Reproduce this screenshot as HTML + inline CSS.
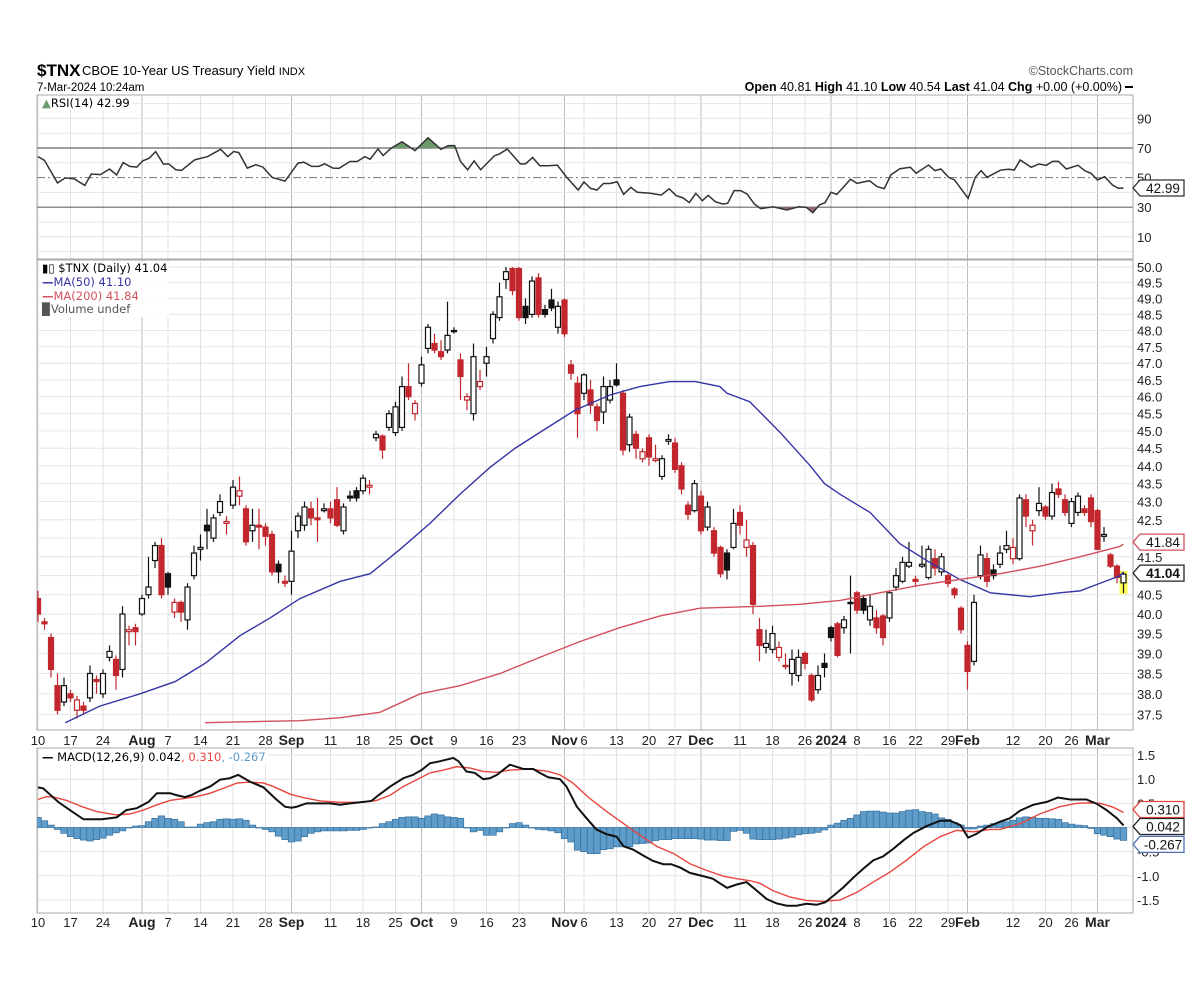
<!DOCTYPE html>
<html><head><meta charset="utf-8"><title>$TNX chart</title>
<style>
html,body{margin:0;padding:0;background:#fff;}
svg{display:block;font-family:"Liberation Sans",Arial,sans-serif;}
.lg{font-family:"DejaVu Sans","Liberation Sans",sans-serif;font-size:11.5px;}
</style></head>
<body>
<svg id="chart" width="1204" height="1000" viewBox="0 0 1204 1000" xmlns="http://www.w3.org/2000/svg">
<rect x="0" y="0" width="1204" height="1000" fill="#fff"/>
<g>
<text x="37" y="76" font-size="17" font-weight="bold">$TNX</text>
<text x="82" y="75" font-size="13">CBOE 10-Year US Treasury Yield <tspan font-size="11">INDX</tspan></text>
<text x="1133" y="75" font-size="12.5" fill="#555" text-anchor="end">©StockCharts.com</text>
<text x="37" y="91" font-size="11.5">7-Mar-2024 10:24am</text>
<text x="1122" y="91" font-size="12.5" text-anchor="end"><tspan font-weight="bold">Open</tspan> 40.81  <tspan font-weight="bold">High</tspan> 41.10  <tspan font-weight="bold">Low</tspan> 40.54  <tspan font-weight="bold">Last</tspan> 41.04  <tspan font-weight="bold">Chg</tspan> +0.00 (+0.00%)</text>
<rect x="1125" y="86" width="8" height="2" fill="#000"/>
</g>
<g id="grid"></g>
<g id="marks"></g>
<g id="labels"></g>
</svg>
<script>
// ---------- data ----------
const dayLabels = ["10","17","24","Aug","7","14","21","28","Sep","11","18","25","Oct","9","16","23","Nov","6","13","20","27","Dec","11","18","26","2024","8","16","22","29","Feb","12","20","26","Mar"];
const dayLabelIdx = [0,5,10,16,20,25,30,35,39,45,50,55,59,64,69,74,81,84,89,94,98,102,108,113,118,122,126,131,135,140,143,150,155,159,163];
const monthLabels = ["Aug","Sep","Oct","Nov","Dec","2024","Feb","Mar"];
const priceTicks = [37.5,38.0,38.5,39.0,39.5,40.0,40.5,41.0,41.5,42.0,42.5,43.0,43.5,44.0,44.5,45.0,45.5,46.0,46.5,47.0,47.5,48.0,48.5,49.0,49.5,50.0];
const rsiTicks = [90,70,50,30,10];
const macdTicks = [1.5,1.0,0.5,-0.5,-1.0,-1.5];

const openP = [40.4,39.8,39.4,38.2,37.8,38.0,37.6,37.7,37.9,38.35,38.0,38.9,38.85,38.6,39.55,39.65,40.0,40.5,41.4,41.8,41.05,40.05,40.3,39.85,41.0,41.7,42.35,42.0,42.7,42.4,42.9,43.15,42.8,42.2,42.35,42.3,42.1,41.3,40.85,40.85,42.2,42.35,42.8,42.55,42.75,42.8,43.05,42.2,43.15,43.3,43.3,43.4,44.8,44.85,45.1,44.95,45.1,46.3,45.5,46.4,47.45,47.6,47.35,47.4,48.0,47.1,45.9,45.5,46.3,47.0,47.75,48.4,49.6,49.95,49.95,48.75,48.5,49.65,48.65,48.95,48.1,48.95,46.95,46.4,46.1,46.2,45.7,45.55,45.9,46.5,46.1,44.6,44.9,44.2,44.8,44.15,43.7,44.7,44.65,44.0,42.9,42.75,43.15,42.3,42.2,41.75,41.6,41.75,42.7,41.75,41.8,39.6,39.15,39.1,38.9,38.7,38.5,38.45,39.0,38.45,38.1,38.75,39.65,39.75,39.65,40.3,40.55,40.4,39.85,39.9,39.95,39.9,40.7,40.85,41.25,40.9,41.25,40.95,41.45,41.1,41.0,40.65,40.15,39.2,38.8,41.0,41.45,41.15,41.3,41.7,41.45,41.45,43.05,42.2,42.75,42.85,42.6,43.35,43.05,42.4,42.7,42.8,43.1,42.75,42.05,41.55,41.25,40.81];
const highP = [40.6,39.9,39.5,38.5,38.4,38.1,37.95,37.8,38.7,38.45,38.6,39.2,38.95,40.2,39.7,39.75,40.5,41.5,41.9,42.0,41.1,40.4,40.35,40.8,41.8,42.1,42.8,42.65,43.2,42.6,43.6,43.7,42.9,42.8,42.8,42.4,42.2,41.4,41.0,42.2,42.7,43.0,43.0,43.1,42.95,43.0,43.4,42.95,43.3,43.4,43.75,43.6,45.0,44.9,45.6,45.85,46.6,47.0,45.9,47.2,48.2,47.9,47.7,48.9,48.1,47.3,46.1,47.6,46.8,47.5,48.6,49.5,50.0,50.0,50.0,49.0,49.7,49.8,48.8,49.3,48.9,49.0,47.1,46.6,46.7,46.5,45.8,46.6,46.5,47.0,46.2,45.5,45.0,44.5,44.9,44.6,44.3,44.9,44.8,44.1,43.0,43.6,43.3,43.0,42.3,41.8,41.7,42.8,42.9,42.5,41.9,39.9,39.6,39.7,39.3,39.0,39.1,39.1,39.05,38.5,38.7,39.0,39.7,39.8,39.95,41.0,40.6,40.5,40.5,40.1,40.0,40.6,41.2,41.5,41.9,41.0,41.8,41.8,41.7,41.6,41.1,40.7,40.2,39.3,40.5,41.8,41.6,41.3,41.8,42.2,42.0,43.2,43.2,42.5,43.4,42.9,43.5,43.55,43.2,43.1,43.25,42.9,43.2,42.8,42.3,41.6,41.3,41.10];
const lowP = [39.8,39.6,38.4,37.5,37.7,37.8,37.4,37.5,37.8,38.0,37.9,38.8,38.1,38.4,39.2,39.2,39.95,40.4,41.2,40.4,40.5,39.9,39.8,39.6,40.9,41.4,41.7,41.9,42.6,42.1,42.8,42.9,41.8,41.9,41.7,41.8,41.0,40.8,40.7,40.5,42.0,42.2,42.35,41.9,42.7,42.4,42.3,42.1,43.0,43.0,43.2,43.2,44.7,44.2,45.0,44.85,45.0,45.9,45.3,46.3,47.3,47.3,47.1,47.3,47.9,45.9,45.6,45.3,46.2,46.6,47.6,48.3,49.3,49.1,48.3,48.2,48.4,48.4,48.4,48.6,47.9,47.8,46.5,44.8,45.9,45.5,45.0,45.2,45.8,46.3,44.3,44.4,44.2,44.1,44.0,44.1,43.6,44.6,43.8,43.2,42.5,42.7,42.1,42.2,41.5,40.95,40.9,41.7,42.1,41.5,40.0,38.8,39.0,39.0,38.8,38.6,38.2,38.3,38.6,37.8,38.0,38.4,39.3,38.9,39.5,39.0,40.0,40.0,39.7,39.5,39.2,39.8,40.6,40.8,41.2,40.7,41.2,40.9,41.0,41.0,40.7,40.4,39.5,38.1,38.7,40.9,40.7,40.9,41.2,41.6,41.3,41.4,42.3,41.8,42.6,42.5,42.5,43.1,42.6,42.3,42.6,42.6,42.3,41.7,41.9,41.2,40.8,40.54];
const closeP = [40.0,39.75,38.6,37.6,38.2,37.9,37.85,37.6,38.5,38.3,38.5,39.05,38.45,40.0,39.6,39.55,40.4,40.7,41.8,40.5,40.7,40.3,40.05,40.7,41.6,41.75,42.2,42.55,43.0,42.45,43.4,43.3,41.9,42.35,42.3,42.05,41.1,41.1,40.8,41.65,42.6,42.85,42.55,42.5,42.8,42.55,42.35,42.85,43.1,43.1,43.65,43.45,44.9,44.45,45.5,45.7,46.3,46.0,45.8,46.95,48.1,47.4,47.2,47.85,48.0,46.6,46.0,47.2,46.45,47.2,48.5,49.05,49.85,49.25,48.4,48.4,49.55,48.5,48.5,48.7,48.75,47.9,46.7,45.5,46.65,45.75,45.3,46.3,46.3,46.35,44.45,45.4,44.5,44.4,44.25,44.2,44.2,44.75,43.9,43.35,42.65,43.5,42.2,42.85,41.6,41.05,41.15,42.4,42.35,41.95,40.25,39.2,39.25,39.5,39.15,38.7,38.85,38.9,38.75,37.85,38.45,38.65,39.4,38.95,39.85,40.3,40.1,40.1,40.2,39.65,39.4,40.55,41.0,41.35,41.35,40.85,41.3,41.7,41.2,41.5,40.8,40.5,39.6,38.55,40.3,41.55,40.85,41.0,41.6,41.8,41.75,43.1,42.6,42.35,42.95,42.6,43.25,43.2,42.7,43.0,43.15,42.7,42.45,41.7,42.1,41.25,40.95,41.04];

const ma50Day = [4.2,9.5,15.7,21.1,25.7,31.1,35.7,40.3,46.5,51.1,55.7,60.3,64.9,69.5,73.4,78,82.6,88,92.6,97.2,101.1,104.9,106,109.5,114.2,118.8,121,123.4,128,132.6,137.2,141.8,146.5,152.6,157.2,160.3,163.4,166.5,167];
const ma50Val = [37.3,37.7,38.0,38.3,38.75,39.45,39.9,40.4,40.85,41.05,41.7,42.4,43.2,43.95,44.5,45.05,45.6,46.05,46.3,46.45,46.45,46.3,46.1,45.85,44.95,44.0,43.5,43.2,42.7,41.85,41.35,40.9,40.55,40.45,40.55,40.6,40.8,41.0,41.10];
const ma200Day = [25.7,34.2,40.3,46.5,52.6,58.8,64.9,71.1,77.2,83.4,89.5,95.7,101.8,111.1,117.2,123.4,129.5,135.7,141.8,148,154.2,160.3,166.5,167];
const ma200Val = [37.3,37.33,37.35,37.42,37.55,38.0,38.2,38.5,38.9,39.3,39.65,39.95,40.15,40.2,40.25,40.35,40.55,40.75,40.9,41.05,41.25,41.5,41.78,41.84];

const rsiDay = [0,1.0,3.0,4.2,5.6,7.2,8.2,9.6,11,12.1,13.1,14.1,15.2,16.1,17.1,18.1,19.3,20.1,21.2,22.1,24.1,26.1,28.1,29.2,30.1,30.9,32.2,33.5,34.6,36,38,40,40.9,42.1,43.2,44.1,45.4,46.3,48,49.1,50.3,51.1,52.3,53.1,54.3,56,58,60,62,63.1,64.1,65,66.1,67.1,68.1,70.2,71,72.2,74.2,75,76.1,77.2,78.5,79.9,81.3,83.1,84,85,86,87,88,89.1,90.1,91.2,92.2,94.2,95.9,97.1,98.2,99.2,100.2,101.2,102.2,103.1,104.2,105.3,106.1,107.1,108.1,109.1,110.2,111.2,113.1,115.2,117,118.2,119.2,120.2,121.1,122,122.9,125,126,127.9,129.1,130.2,131.2,132.6,134.2,135.1,137,138,138.9,140.1,141,143.1,144.2,145.1,146,148.1,149.3,150.2,151.1,152.8,154,155.1,156.1,157,158.2,160,161.1,162,163,164.1,165.3,166.2,167];
const rsiVal = [64.2,61.6,46.4,49.8,49.1,44.7,52.4,52,55.8,51.8,60.2,57.6,57.1,61.3,63.1,67.6,59.1,59.3,55.3,54.9,62,64.2,69.1,64.2,67.6,66.9,56.4,58.7,57.1,50.2,47.6,59.8,60.4,57.6,57.6,59.3,56.4,56.2,60.9,60.9,64.2,62.4,69.3,64.9,69.8,74.2,68.2,76.9,69.1,71.6,71.6,60.9,55.3,61.3,55.3,64.7,66,69.3,59.3,59.3,63.6,58,58,58.4,50.4,41.6,47.1,42.7,41.6,46,46,47.2,38.7,43.4,40.1,39.4,38.2,42.5,37.8,36.4,33.1,39.4,34.4,38,33.7,32.2,32.6,41.2,41.2,38.9,32.2,29,30.3,28.1,30.3,29.9,26.3,31.5,33.1,40.1,38.7,48.9,46.1,47.9,43.9,42.5,51.8,56,57,52.9,58.5,54.7,55.8,50.2,48.4,36,50.2,54.7,50.2,55.1,55.6,55.1,61.9,57,59.2,58.3,61,61,55.8,58.3,54.5,52.9,48.4,50.6,45,42.8,42.99];

const macdDay = [0,0.8,3.1,4.9,7,9.8,12.1,13.6,15.2,17,18.3,20.3,21.3,22.6,23.6,24.9,26.5,28,29.5,30.8,32.6,34.7,36.5,38,39,39.8,41.3,43.4,44.9,46.5,48,50.1,51.3,52.4,54.2,56.2,57.7,59,60.3,61.8,63.9,64.7,65.9,67.2,68.5,69.5,70.6,72.6,74.7,76.2,77.2,78.5,80.3,81.3,82.9,84.4,85.9,87.5,89,90.1,91.6,93.1,94.6,96.2,97.4,98.8,100.3,102.4,103.8,106,107.5,109,110.6,112.1,113.6,115.2,116.7,118.2,119.8,121.1,122.4,123.9,125.5,127,128.5,130,131.6,133.2,134.7,136.7,138.8,140.3,141.9,143.1,144.4,145.9,148,149.5,151.1,153.1,155.2,156.9,158.8,161.3,162.9,164.4,166,167];
const macdVal = [0.83,0.81,0.53,0.36,0.17,0.17,0.21,0.36,0.4,0.53,0.71,0.71,0.67,0.63,0.67,0.76,0.85,0.99,1.02,1.09,0.95,0.83,0.6,0.43,0.41,0.43,0.5,0.5,0.5,0.47,0.5,0.53,0.55,0.67,0.85,1.02,1.09,1.19,1.33,1.37,1.44,1.37,1.16,1.13,1.0,1.02,1.09,1.3,1.21,1.21,1.13,1.04,1.0,0.85,0.43,0.19,-0.04,-0.14,-0.19,-0.39,-0.46,-0.58,-0.69,-0.76,-0.76,-0.83,-0.94,-1.01,-1.06,-1.25,-1.18,-1.13,-1.31,-1.48,-1.57,-1.62,-1.62,-1.58,-1.6,-1.55,-1.41,-1.24,-1.03,-0.85,-0.68,-0.6,-0.44,-0.26,-0.11,0.03,0.14,0.14,0.05,-0.21,-0.13,0,0.12,0.19,0.35,0.47,0.53,0.62,0.58,0.58,0.49,0.36,0.19,0.042];
const signalDay = [0,1.3,2.4,4.4,7,9,12.1,14.2,16.2,18.3,20.3,22.4,24.4,26.5,28.5,30.6,32.6,34.7,36.2,38.8,40.8,43.4,46.5,49.5,52.1,54.2,56.2,58.3,60.3,62.4,64.4,66.5,68.5,70.6,72.6,75.7,78.5,80.3,82.3,84.9,87.5,90.1,92.6,95.2,97.8,100.3,102.9,105.5,107.5,109.5,111,113.1,115.7,118.2,120.8,123.4,126,128.5,131.1,133.6,136.2,138.8,141.3,143.9,146.5,148,151.1,154.1,157.2,159.8,161.8,163.4,165.4,167];
const signalVal = [0.58,0.64,0.63,0.56,0.42,0.33,0.26,0.28,0.36,0.47,0.56,0.6,0.64,0.71,0.81,0.92,0.94,0.92,0.85,0.69,0.62,0.55,0.52,0.52,0.56,0.67,0.85,0.99,1.13,1.19,1.26,1.23,1.16,1.14,1.19,1.21,1.16,1.09,0.92,0.6,0.33,0.08,-0.16,-0.39,-0.54,-0.75,-0.89,-1.01,-1.06,-1.1,-1.15,-1.31,-1.44,-1.51,-1.53,-1.5,-1.34,-1.13,-0.92,-0.68,-0.4,-0.19,-0.06,-0.09,-0.04,-0.04,0.08,0.28,0.43,0.5,0.51,0.5,0.42,0.31];
const histVal = [0.21,0.14,0.05,-0.04,-0.12,-0.19,-0.23,-0.26,-0.28,-0.25,-0.22,-0.16,-0.11,-0.07,0.0,0.03,0.04,0.12,0.19,0.24,0.19,0.17,0.12,0.01,0.01,0.07,0.1,0.12,0.17,0.18,0.17,0.18,0.15,0.05,0.0,-0.04,-0.09,-0.18,-0.25,-0.3,-0.28,-0.19,-0.12,-0.09,-0.07,-0.07,-0.07,-0.07,-0.06,-0.06,-0.04,0.0,0.01,0.08,0.12,0.17,0.21,0.22,0.22,0.19,0.24,0.28,0.26,0.22,0.21,0.19,0.0,-0.09,-0.06,-0.16,-0.16,-0.09,0.0,0.08,0.1,0.05,0.0,-0.04,-0.05,-0.07,-0.11,-0.23,-0.3,-0.47,-0.5,-0.54,-0.54,-0.46,-0.44,-0.4,-0.4,-0.4,-0.34,-0.33,-0.32,-0.27,-0.25,-0.25,-0.23,-0.23,-0.23,-0.23,-0.24,-0.26,-0.26,-0.27,-0.27,-0.08,-0.06,-0.12,-0.24,-0.25,-0.25,-0.25,-0.24,-0.22,-0.2,-0.15,-0.13,-0.12,-0.1,-0.05,0.05,0.09,0.15,0.19,0.26,0.33,0.34,0.34,0.32,0.3,0.3,0.33,0.36,0.37,0.33,0.31,0.28,0.2,0.17,0.1,0.05,-0.03,-0.03,0.03,0.05,0.08,0.1,0.12,0.15,0.2,0.22,0.21,0.19,0.19,0.18,0.17,0.1,0.07,0.05,0.04,-0.02,-0.13,-0.16,-0.19,-0.24,-0.267];

// ---------- scales ----------
const PL = 37, PR = 1133;
const RSI_T = 95, RSI_B = 259, MAIN_T = 260, MAIN_B = 730, MACD_T = 748, MACD_B = 913;
function xD(d){ return 38 + 6.5*d; }
function yP(v){ return 267 + (Math.log10(50) - Math.log10(v))*3581; }
function yR(v){ return 148 + (70 - v)*1.48; }
function yM(v){ return 827.5 - 48.3*v; }

const NS = "http://www.w3.org/2000/svg";
function mk(tag, attrs, parent){
  const e = document.createElementNS(NS, tag);
  for (const k in attrs) e.setAttribute(k, attrs[k]);
  parent.appendChild(e);
  return e;
}
const svg = document.getElementById('chart');
const grid = document.getElementById('grid');
const marks = document.getElementById('marks');
const labels = document.getElementById('labels');

const defs = mk('defs', {}, svg);
function clip(id, x, y, w, h){ const c = mk('clipPath', {id:id}, defs); mk('rect', {x:x, y:y, width:w, height:h}, c); }
clip('cMain', PL, MAIN_T, PR-PL, MAIN_B-MAIN_T);
clip('cRsi', PL, RSI_T, PR-PL, RSI_B-RSI_T);
clip('cMacd', PL, MACD_T, PR-PL, MACD_B-MACD_T);
clip('cOver', PL, RSI_T, PR-PL, yR(70)-RSI_T);
clip('cUnder', PL, yR(30), PR-PL, RSI_B-yR(30));

// ---------- grids ----------
const panels = [[RSI_T,RSI_B,'rsi'],[MAIN_T,MAIN_B,'main'],[MACD_T,MACD_B,'macd']];
panels.forEach(p => {
  dayLabelIdx.forEach((d,k) => {
    const isMonth = monthLabels.indexOf(dayLabels[k]) >= 0;
    const l = mk('line', {x1:xD(d), x2:xD(d), y1:p[0], y2:p[1], stroke:isMonth?'#bcbcbc':'#e2e2e2', 'stroke-width':1}, grid);
    
    
  });
});
for (let v=0; v<=100; v+=10){
  if (v===70||v===30||v===50) continue;
  const l = mk('line', {x1:PL, x2:PR, y1:yR(v), y2:yR(v), stroke:'#e6e6e6'}, grid);
  
  
}
priceTicks.forEach(v => {
  const l = mk('line', {x1:PL, x2:PR, y1:yP(v), y2:yP(v), stroke:'#e6e6e6'}, grid);
  
  
});
macdTicks.concat([0]).forEach(v => {
  const l = mk('line', {x1:PL, x2:PR, y1:yM(v), y2:yM(v), stroke:'#e6e6e6'}, grid);
  
  
});
[70,30].forEach(v => {
  const l = mk('line', {x1:PL, x2:PR, y1:yR(v), y2:yR(v), stroke:'#666', 'stroke-width':1.2}, grid);
  
  
});
const l50 = mk('line', {x1:PL, x2:PR, y1:yR(50), y2:yR(50), stroke:'#777', 'stroke-dasharray':'8,3,2,3'}, grid);



panels.forEach(p => {
  const r = mk('rect', {x:PL, y:p[0], width:PR-PL, height:p[1]-p[0], fill:'none', stroke:'#aaa'}, grid);
  
  
});

// ---------- RSI ----------
const rsiPts = rsiDay.map((d,i) => xD(d)+','+yR(rsiVal[i])).join(' ');
const polyOver = xD(rsiDay[0])+','+yR(70)+' '+rsiPts+' '+xD(rsiDay[rsiDay.length-1])+','+yR(70);
const polyUnder = xD(rsiDay[0])+','+yR(30)+' '+rsiPts+' '+xD(rsiDay[rsiDay.length-1])+','+yR(30);
const ov = mk('polygon', {points:polyOver, fill:'#6b9a6b', 'clip-path':'url(#cOver)'}, marks);


const un = mk('polygon', {points:polyUnder, fill:'#9a6b75', 'clip-path':'url(#cUnder)'}, marks);


const rsiLine = mk('polyline', {points:rsiPts, fill:'none', stroke:'#333', 'stroke-width':1.5, 'clip-path':'url(#cRsi)'}, marks);



// ---------- Main: candles ----------
const gMain = mk('g', {'clip-path':'url(#cMain)'}, marks);


const last = closeP.length-1;
const hl = mk('rect', {x:xD(last)-4, y:yP(highP[last])-1, width:8, height:yP(lowP[last])-yP(highP[last])+2, fill:'#ffff55'}, gMain);


closeP.forEach((c,i) => {
  const o = openP[i];
  const prev = i>0 ? closeP[i-1] : openP[0];
  const col = c < prev ? '#c1272d' : '#111';
  const x = xD(i);
  const g = mk('g', {}, gMain);
  
  
  const w = mk('line', {x1:x, x2:x, y1:yP(highP[i]), y2:yP(lowP[i]), stroke:col, 'stroke-width':1.2}, g);
  
  
  const top = yP(Math.max(o,c)), bot = yP(Math.min(o,c));
  const h = Math.max(bot-top, 1.2);
  const filled = c < o;
  const b = mk('rect', {x:x-2.5, y:top, width:5, height:h, fill:filled?col:'#fff', stroke:col, 'stroke-width':1.2}, g);
  
  
});
const ma50 = mk('polyline', {points:ma50Day.map((d,i)=>xD(d)+','+yP(ma50Val[i])).join(' '), fill:'none', stroke:'#3535a5', 'stroke-width':1.4}, gMain);


const ma200 = mk('polyline', {points:ma200Day.map((d,i)=>xD(d)+','+yP(ma200Val[i])).join(' '), fill:'none', stroke:'#d2505c', 'stroke-width':1.4}, gMain);



// ---------- MACD ----------
const gM = mk('g', {'clip-path':'url(#cMacd)'}, marks);


histVal.forEach((v,i) => {
  const y0 = yM(0), y1 = yM(v);
  const r = mk('rect', {x:xD(i)-3.25, y:Math.min(y0,y1), width:6.5, height:Math.max(Math.abs(y1-y0),0.5), fill:'#5f9cc9', stroke:'#33709f', 'stroke-width':0.7}, gM);
  
  
});
const sig = mk('polyline', {points:signalDay.map((d,i)=>xD(d)+','+yM(signalVal[i])).join(' '), fill:'none', stroke:'#e8453f', 'stroke-width':1.4}, gM);


const mac = mk('polyline', {points:macdDay.map((d,i)=>xD(d)+','+yM(macdVal[i])).join(' '), fill:'none', stroke:'#111', 'stroke-width':2}, gM);



// ---------- axis labels ----------
function txt(x,y,s,attrs){
  const t = mk('text', Object.assign({x:x, y:y, 'font-size':13, fill:'#222'}, attrs||{}), labels);
  t.textContent = s;
  return t;
}
priceTicks.forEach(v => {
  const t = txt(1137, yP(v)+5, v.toFixed(1));
  
  
});
rsiTicks.forEach(v => {
  const t = txt(1137, yR(v)+5, String(v));
  
  
});
macdTicks.forEach(v => {
  const t = txt(1137, yM(v)+5, v.toFixed(1));
  
  
});
[MAIN_B+15, MACD_B+14].forEach(y => {
  dayLabelIdx.forEach((d,k) => {
    const s = dayLabels[k];
    const bold = monthLabels.indexOf(s) >= 0;
    const t = txt(xD(d), y, s, {'text-anchor':'middle', 'font-weight':bold?'bold':'normal', 'font-size':bold?14:13});
    
    
  });
});

function tag(y, s, stroke, bold, name){
  const g = mk('g', {}, labels);
  
  
  const w = 44;
  mk('polygon', {points:(1133)+','+y+' '+(1140)+','+(y-8)+' '+(1140+w)+','+(y-8)+' '+(1140+w)+','+(y+8)+' '+(1140)+','+(y+8), fill:'#fff', stroke:stroke, 'stroke-width':1.3}, g);
  const t = mk('text', {x:1141+w/2, y:y+5, 'text-anchor':'middle', 'font-size':13.5, 'font-weight':bold?'bold':'normal', fill:'#111'}, g);
  t.textContent = s;
}
tag(yR(42.99), '42.99', '#333', false, 'rsi-value-tag');
tag(yP(41.84)-2, '41.84', '#d2505c', false, 'ma200-value-tag');
tag(yP(41.04)-1, '41.04', '#222', true, 'last-price-tag');
tag(yM(0.31)-3, '0.310', '#e8453f', false, 'signal-value-tag');
tag(yM(0.042)+1, '0.042', '#222', false, 'macd-value-tag');
tag(yM(-0.267)+4, '-0.267', '#4a6fb5', false, 'histogram-value-tag');
</script>
<div style="position:absolute;left:0;top:0;width:1204px;height:1000px;pointer-events:none;">
  <div class="lg" style="position:absolute;left:40px;top:96px;background:#fff;padding:0 2px;"><span style="color:#6b9a6b">&#9650;</span>RSI(14) 42.99</div>
  <div class="lg" style="position:absolute;left:40px;top:262px;line-height:13.8px;background:rgba(255,255,255,0.9);padding:0 2px;">
    <div>&#9646;&#9647; $TNX (Daily) 41.04</div>
    <div style="color:#3535a5"><b>&#8212;</b>MA(50) 41.10</div>
    <div style="color:#d2505c"><b>&#8212;</b>MA(200) 41.84</div>
    <div style="color:#555">&#9609;Volume undef</div>
  </div>
  <div class="lg" style="position:absolute;left:40px;top:750px;background:rgba(255,255,255,0.9);padding:0 2px;"><b>&#8212;</b> MACD(12,26,9) 0.042<span style="color:#e8453f">, 0.310</span><span style="color:#5f9cc9">, -0.267</span></div>
</div>
</body></html>
